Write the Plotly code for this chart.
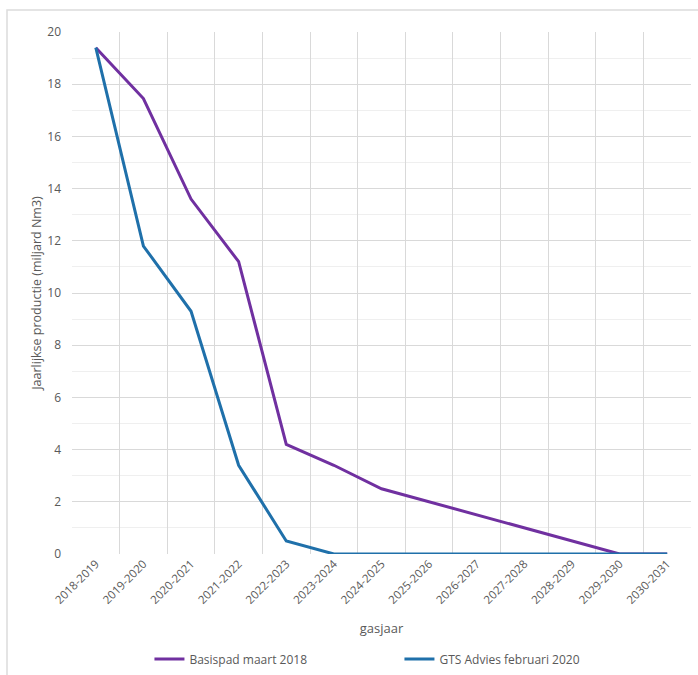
import plotly.graph_objects as go

categories = ["2018-2019", "2019-2020", "2020-2021", "2021-2022", "2022-2023", "2023-2024",
              "2024-2025", "2025-2026", "2026-2027", "2027-2028", "2028-2029", "2029-2030", "2030-2031"]
basispad = [19.4, 17.45, 13.6, 11.2, 4.2, 3.4, 2.5, 2.0, 1.5, 1.0, 0.5, 0.0, 0.0]
gts_advies = [19.4, 11.8, 9.3, 3.4, 0.5, 0.0, 0.0, 0.0, 0.0, 0.0, 0.0, 0.0, 0.0]
y_ticks = list(range(0, 21, 2))

FONT = "Open Sans, Liberation Sans, sans-serif"
TXT = "#595959"

fig = go.Figure()
fig.add_trace(go.Scatter(x=categories, y=basispad, mode="lines", name="Basispad maart 2018",
                         line=dict(color="#7030A0", width=3)))
fig.add_trace(go.Scatter(x=categories, y=gts_advies, mode="lines", name="GTS Advies februari 2020",
                         line=dict(color="#1F70AA", width=3)))

fig.update_layout(
    width=698, height=675,
    margin=dict(l=72, r=7, t=32, b=121, autoexpand=False),
    paper_bgcolor="white", plot_bgcolor="white",
    font=dict(family=FONT, color=TXT, size=11),
    showlegend=True,
    legend=dict(orientation="h", x=0.529, xanchor="center", y=-0.201, yanchor="middle",
                font=dict(size=12, color=TXT), entrywidth=205, entrywidthmode="pixels",
                traceorder="normal"),
    xaxis=dict(type="category", tickson="boundaries", showgrid=True, gridcolor="#d9d9d9",
               gridwidth=1, tickangle=-45, ticks="", showline=False, zeroline=False,
               range=[-0.5, 12.5], automargin=False,
               tickfont=dict(size=11.5, color=TXT),
               title=dict(text="gasjaar", font=dict(size=13, color=TXT), standoff=18)),
    yaxis=dict(range=[0, 20], tickvals=y_ticks, showgrid=True, gridcolor="#d9d9d9", gridwidth=1,
               zeroline=False, showline=False, ticks="", tickfont=dict(size=12, color=TXT),
               ticklabelstandoff=10, automargin=False,
               minor=dict(dtick=1, showgrid=True, gridcolor="#efefef", gridwidth=1),
               title=dict(text="Jaarlijkse productie (miljard Nm3)", font=dict(size=12.5, color=TXT),
                          standoff=2)),
)

fig.add_shape(type="rect", xref="paper", yref="paper",
              x0=-65/619, x1=1.02, y0=-0.3, y1=1 + 22/522,
              line=dict(color="#dcdcdc", width=1.5), layer="below")

fig.write_html("out.html", config={"displayModeBar": False},
               post_script="document.body.style.margin='0';document.body.style.padding='0';")
